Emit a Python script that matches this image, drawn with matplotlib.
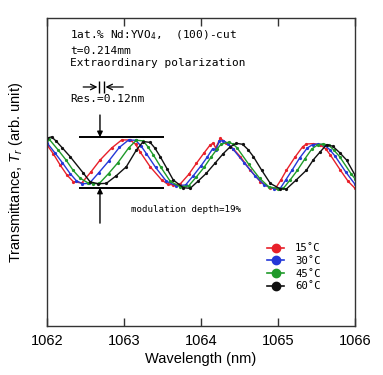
import matplotlib
matplotlib.use("Agg")
import matplotlib.pyplot as plt

plt.rcParams["font.family"] = ["Liberation Sans", "DejaVu Sans"]
plt.rcParams["mathtext.fontset"] = "custom"
plt.rcParams["mathtext.it"] = "Liberation Sans:italic"
plt.rcParams["mathtext.rm"] = "DejaVu Sans Mono"

# transmission spectra (wavelength nm, transmittance arb.)
wl_15 = [1062.00, 1062.08, 1062.17, 1062.26, 1062.34, 1062.45, 1062.57, 1062.69,
         1062.84, 1062.97, 1063.08, 1063.15, 1063.21, 1063.34, 1063.49, 1063.57,
         1063.64, 1063.73, 1063.84, 1063.94, 1064.04, 1064.12, 1064.16, 1064.19,
         1064.25, 1064.33, 1064.42, 1064.51, 1064.64, 1064.77, 1064.90, 1064.97,
         1065.04, 1065.11, 1065.22, 1065.32, 1065.37, 1065.46, 1065.55, 1065.62,
         1065.68, 1065.81, 1065.91, 1066.00]
tr_15 = [0.588, 0.560, 0.523, 0.490, 0.469, 0.464, 0.500, 0.539,
         0.578, 0.604, 0.604, 0.590, 0.565, 0.517, 0.474, 0.460,
         0.458, 0.461, 0.492, 0.528, 0.562, 0.588, 0.594, 0.578,
         0.609, 0.595, 0.575, 0.550, 0.506, 0.469, 0.447, 0.448,
         0.475, 0.506, 0.548, 0.582, 0.591, 0.592, 0.588, 0.575,
         0.555, 0.506, 0.470, 0.447]

wl_30 = [1062.00, 1062.10, 1062.20, 1062.30, 1062.38, 1062.46, 1062.55, 1062.67,
         1062.80, 1062.94, 1063.06, 1063.15, 1063.22, 1063.29, 1063.41, 1063.55,
         1063.68, 1063.80, 1063.90, 1064.00, 1064.08, 1064.15, 1064.19, 1064.24,
         1064.29, 1064.35, 1064.41, 1064.56, 1064.70, 1064.82, 1064.95, 1065.03,
         1065.10, 1065.18, 1065.28, 1065.38, 1065.45, 1065.52, 1065.60, 1065.67,
         1065.74, 1065.88, 1066.00]
tr_30 = [0.595, 0.563, 0.530, 0.495, 0.472, 0.462, 0.463, 0.497,
         0.535, 0.580, 0.604, 0.603, 0.585, 0.560, 0.515, 0.470,
         0.455, 0.458, 0.488, 0.520, 0.548, 0.575, 0.572, 0.600,
         0.602, 0.592, 0.576, 0.530, 0.488, 0.458, 0.446, 0.447,
         0.474, 0.505, 0.545, 0.578, 0.589, 0.591, 0.588, 0.573,
         0.552, 0.500, 0.460]

wl_45 = [1062.00, 1062.03, 1062.14, 1062.25, 1062.34, 1062.43, 1062.53, 1062.60,
         1062.68, 1062.80, 1062.92, 1063.06, 1063.16, 1063.25, 1063.31, 1063.38,
         1063.48, 1063.60, 1063.73, 1063.84, 1063.94, 1064.04, 1064.13, 1064.21,
         1064.26, 1064.36, 1064.42, 1064.47, 1064.62, 1064.76, 1064.88, 1065.00,
         1065.07, 1065.16, 1065.25, 1065.35, 1065.44, 1065.52, 1065.59, 1065.66,
         1065.73, 1065.80, 1065.95, 1066.00]
tr_45 = [0.603, 0.606, 0.573, 0.538, 0.505, 0.480, 0.465, 0.462,
         0.463, 0.495, 0.530, 0.578, 0.603, 0.601, 0.582, 0.556,
         0.515, 0.470, 0.452, 0.455, 0.484, 0.515, 0.548, 0.575,
         0.590, 0.597, 0.590, 0.578, 0.525, 0.480, 0.452, 0.446,
         0.447, 0.475, 0.505, 0.543, 0.575, 0.589, 0.591, 0.587,
         0.570, 0.550, 0.494, 0.478]

wl_60 = [1062.00, 1062.06, 1062.12, 1062.20, 1062.30, 1062.47, 1062.56, 1062.66,
         1062.77, 1062.90, 1063.03, 1063.16, 1063.25, 1063.34, 1063.40, 1063.47,
         1063.56, 1063.64, 1063.77, 1063.86, 1063.96, 1064.07, 1064.18, 1064.29,
         1064.38, 1064.46, 1064.54, 1064.61, 1064.68, 1064.79, 1064.90, 1065.03,
         1065.11, 1065.24, 1065.37, 1065.46, 1065.55, 1065.63, 1065.71, 1065.80,
         1065.89, 1066.00]
tr_60 = [0.610, 0.614, 0.600, 0.578, 0.550, 0.497, 0.468, 0.462,
         0.463, 0.488, 0.517, 0.571, 0.599, 0.596, 0.578, 0.550,
         0.510, 0.474, 0.449, 0.447, 0.470, 0.496, 0.528, 0.560,
         0.582, 0.593, 0.590, 0.573, 0.550, 0.505, 0.463, 0.445,
         0.445, 0.475, 0.506, 0.540, 0.566, 0.588, 0.584, 0.563,
         0.539, 0.490]

labels = ["15\u02daC", "30\u02daC", "45\u02daC", "60\u02daC"]
colors = ["#e8202a", "#2438d8", "#1f9a2a", "#111111"]
xticks = [1062, 1063, 1064, 1065, 1066]

fig = plt.figure(figsize=(3.83, 3.75), dpi=100)
ax = fig.add_axes([0.1227, 0.1307, 0.8042, 0.8213])

series = [(wl_15, tr_15), (wl_30, tr_30), (wl_45, tr_45), (wl_60, tr_60)]
for (wl, tr), c, lab in zip(series, colors, labels):
    ax.plot(wl, tr, color=c, lw=1.0, marker="o", ms=1.3, label=lab)

ax.set_xlim(1062, 1066)
ax.set_ylim(0, 1)
ax.set_xticks(xticks)
ax.set_yticks([])
ax.tick_params(axis="x", direction="in", top=True, length=6, width=1,
               labelsize=10.5, pad=6, color="#333333")
for sp in ax.spines.values():
    sp.set_color("#333333")
    sp.set_linewidth(1)

ax.set_xlabel("Wavelength (nm)", fontsize=10.5, labelpad=3)
ax.set_ylabel("Transmittance, $T_r$ (arb. unit)", fontsize=10.5)
ax.yaxis.set_label_coords(-0.07, 0.5)

# modulation depth markers
ax.hlines([0.613, 0.449], 1062.41, 1063.52, color="k", lw=1.4)
ax.annotate("", xy=(1062.688, 0.613), xytext=(1062.688, 0.685),
            arrowprops=dict(arrowstyle="-|>", color="k", lw=1, mutation_scale=8,
                            shrinkA=0, shrinkB=0))
ax.annotate("", xy=(1062.688, 0.449), xytext=(1062.688, 0.334),
            arrowprops=dict(arrowstyle="-|>", color="k", lw=1, mutation_scale=8,
                            shrinkA=0, shrinkB=0))

# resolution marker
ax.vlines([1062.675, 1062.740], 0.756, 0.795, color="k", lw=1)
ax.annotate("", xy=(1062.655, 0.776), xytext=(1062.47, 0.776),
            arrowprops=dict(arrowstyle="->", color="k", lw=0.9, shrinkA=0, shrinkB=0))
ax.annotate("", xy=(1062.76, 0.776), xytext=(1062.99, 0.776),
            arrowprops=dict(arrowstyle="->", color="k", lw=0.9, shrinkA=0, shrinkB=0))

mono = "DejaVu Sans Mono"
ax.text(0.075, 0.945, "1at.% Nd:YVO$_4$,  (100)-cut", transform=ax.transAxes,
        family=mono, fontsize=8, va="center")
ax.text(0.075, 0.894, "t=0.214mm", transform=ax.transAxes,
        family=mono, fontsize=8, va="center")
ax.text(0.075, 0.855, "Extraordinary polarization", transform=ax.transAxes,
        family=mono, fontsize=8, va="center")
ax.text(0.075, 0.737, "Res.=0.12nm", transform=ax.transAxes,
        family=mono, fontsize=8, va="center")
ax.text(0.273, 0.377, "modulation depth=19%", transform=ax.transAxes,
        family=mono, fontsize=6.6, va="center")

leg = ax.legend(loc="upper left", bbox_to_anchor=(0.715, 0.268), frameon=False,
                borderaxespad=0, borderpad=0, handlelength=1.6, handletextpad=1.0,
                labelspacing=0.25, prop={"family": mono, "size": 7.7})
for h in leg.legend_handles:
    h.set_markersize(6)
    h.set_linewidth(1.2)

fig.savefig("out.png", dpi=100)
